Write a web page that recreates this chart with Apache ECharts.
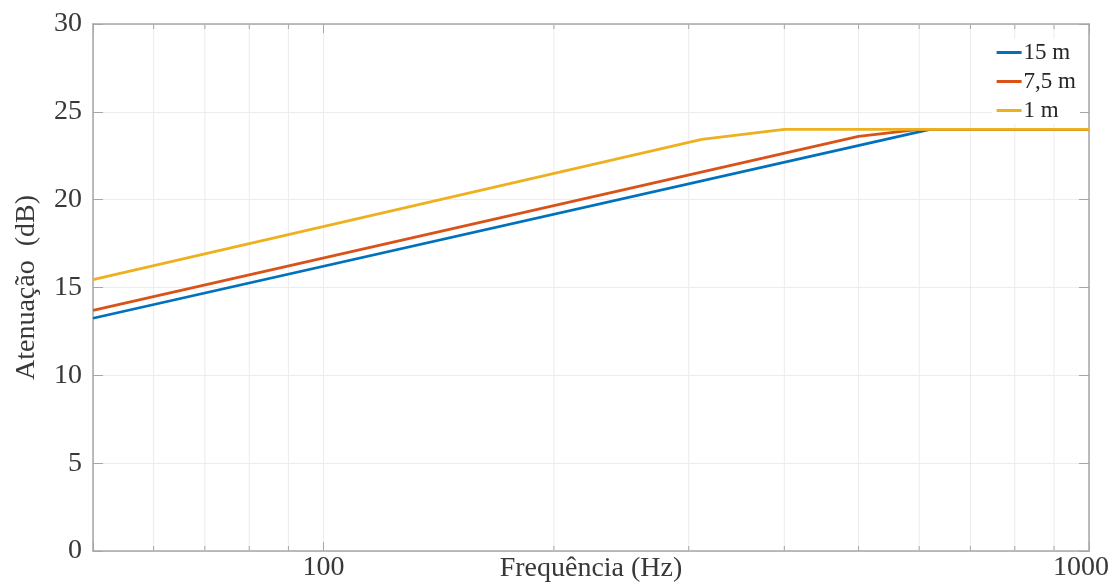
<!DOCTYPE html>
<html>
<head>
<meta charset="utf-8">
<script src="https://cdn.jsdelivr.net/npm/echarts@6/dist/echarts.min.js"></script>
<style>
  html, body { margin: 0; padding: 0; background: #ffffff; }
  #chart { width: 1114px; height: 588px; }
</style>
</head>
<body>
<div id="chart"></div>
<script>
// Attenuation (dB) versus frequency (Hz) for three distances
const seriesNames = ['15 m', '7,5 m', '1 m'];
const freq15 = [50, 620, 1000];
const att15 = [13.25, 24, 24];
const freq75 = [50, 500, 600, 1000];
const att75 = [13.7, 23.6, 24, 24];
const freq1 = [50, 312, 400, 1000];
const att1 = [15.45, 23.43, 24, 24];
const minorFreqTicks = [60, 70, 80, 90, 200, 300, 400, 500, 600, 700, 800, 900];
const majorFreqLabels = [100, 1000];
const colors = ['#0072BD', '#D95319', '#EDB120'];

const FONT = '"Liberation Serif", "DejaVu Serif", serif';
const AXIS_GRAY = '#a6a6a6';
const GRID_GRAY = '#ececec';
const TEXT_COLOR = '#383838';

function pairs(xs, ys) { return xs.map((x, i) => [x, ys[i]]); }

const chart = echarts.init(document.getElementById('chart'), null, { renderer: 'canvas' });

const lineSeries = [
  [freq15, att15], [freq75, att75], [freq1, att1]
].map((d, i) => ({
  name: seriesNames[i],
  type: 'line',
  data: pairs(d[0], d[1]),
  showSymbol: false,
  symbol: 'none',
  lineStyle: { width: 2.8, color: colors[i] },
  itemStyle: { color: colors[i] },
  z: 5 + i,
  animation: false
}));

// Minor log grid lines and inward tick marks on bottom and top edges
const minorSeries = {
  type: 'custom',
  silent: true,
  animation: false,
  z: 1,
  clip: false,
  data: minorFreqTicks.map(v => [v, 0]),
  encode: { x: 0, y: 1 },
  renderItem: function (params, api) {
    const v = api.value(0);
    const bottom = api.coord([v, 0]);
    const top = api.coord([v, 30]);
    return {
      type: 'group',
      children: [
        { type: 'line', shape: { x1: bottom[0], y1: bottom[1], x2: top[0], y2: top[1] },
          style: { stroke: GRID_GRAY, lineWidth: 1 } },
        { type: 'line', shape: { x1: bottom[0], y1: bottom[1], x2: bottom[0], y2: bottom[1] - 5 },
          style: { stroke: AXIS_GRAY, lineWidth: 1 } },
        { type: 'line', shape: { x1: top[0], y1: top[1], x2: top[0], y2: top[1] + 5 },
          style: { stroke: AXIS_GRAY, lineWidth: 1 } }
      ]
    };
  }
};

const option = {
  backgroundColor: '#ffffff',
  animation: false,
  textStyle: { fontFamily: FONT },
  grid: { left: 93, right: 25, top: 24, bottom: 37, containLabel: false, outerBoundsMode: 'none' },
  legend: {
    data: seriesNames,
    orient: 'vertical',
    right: 34,
    top: 39,
    icon: 'rect',
    itemWidth: 25,
    itemHeight: 3,
    itemGap: 6,
    align: 'left',
    backgroundColor: '#ffffff',
    padding: [2, 4, 2, 4],
    textStyle: { fontFamily: FONT, fontSize: 23, color: '#262626', padding: [0, 0, 0, -3] }
  },
  xAxis: [
    {
      type: 'log',
      logBase: 10,
      min: 50,
      max: 1000,
      position: 'bottom',
      name: 'Frequência (Hz)',
      nameLocation: 'middle',
      nameGap: 4,
      nameMoveOverlap: false,
      nameTextStyle: { fontFamily: FONT, fontSize: 28, color: TEXT_COLOR, verticalAlign: 'top' },
      axisLine: { show: true, onZero: false, lineStyle: { color: AXIS_GRAY, width: 1.5 } },
      axisTick: { show: true, inside: true, length: 9, lineStyle: { color: AXIS_GRAY } },
      axisLabel: {
        margin: 3,
        fontFamily: FONT,
        fontSize: 28,
        color: TEXT_COLOR,
        formatter: function (v) {
          const r = Math.round(v);
          if (r === 1000) return '{r|1000}';
          return majorFreqLabels.indexOf(r) >= 0 ? String(r) : '';
        },
        rich: { r: { fontFamily: FONT, fontSize: 28, color: TEXT_COLOR, padding: [0, 16, 0, 0] } }
      },
      splitLine: { show: true, lineStyle: { color: GRID_GRAY, width: 1 } },
      minorTick: { show: false },
      minorSplitLine: { show: false }
    },
    {
      type: 'log',
      logBase: 10,
      min: 50,
      max: 1000,
      position: 'top',
      axisLine: { show: true, onZero: false, lineStyle: { color: AXIS_GRAY, width: 1.5 } },
      axisTick: { show: true, inside: true, length: 9, lineStyle: { color: AXIS_GRAY } },
      axisLabel: { show: false },
      splitLine: { show: false }
    }
  ],
  yAxis: [
    {
      type: 'value',
      min: 0,
      max: 30,
      interval: 5,
      position: 'left',
      name: 'Atenuação  (dB)',
      nameLocation: 'middle',
      nameGap: 52,
      nameMoveOverlap: false,
      nameTextStyle: { fontFamily: FONT, fontSize: 28, color: TEXT_COLOR },
      axisLine: { show: true, onZero: false, lineStyle: { color: AXIS_GRAY, width: 1.5 } },
      axisTick: { show: true, inside: true, length: 10, lineStyle: { color: AXIS_GRAY } },
      axisLabel: { margin: 11, fontFamily: FONT, fontSize: 28, color: TEXT_COLOR },
      splitLine: { show: true, lineStyle: { color: GRID_GRAY, width: 1 } }
    },
    {
      type: 'value',
      min: 0,
      max: 30,
      interval: 5,
      position: 'right',
      axisLine: { show: true, onZero: false, lineStyle: { color: AXIS_GRAY, width: 1.5 } },
      axisTick: { show: true, inside: true, length: 10, lineStyle: { color: AXIS_GRAY } },
      axisLabel: { show: false },
      splitLine: { show: false }
    }
  ],
  series: [minorSeries].concat(lineSeries)
};

chart.setOption(option);
</script>
</body>
</html>
